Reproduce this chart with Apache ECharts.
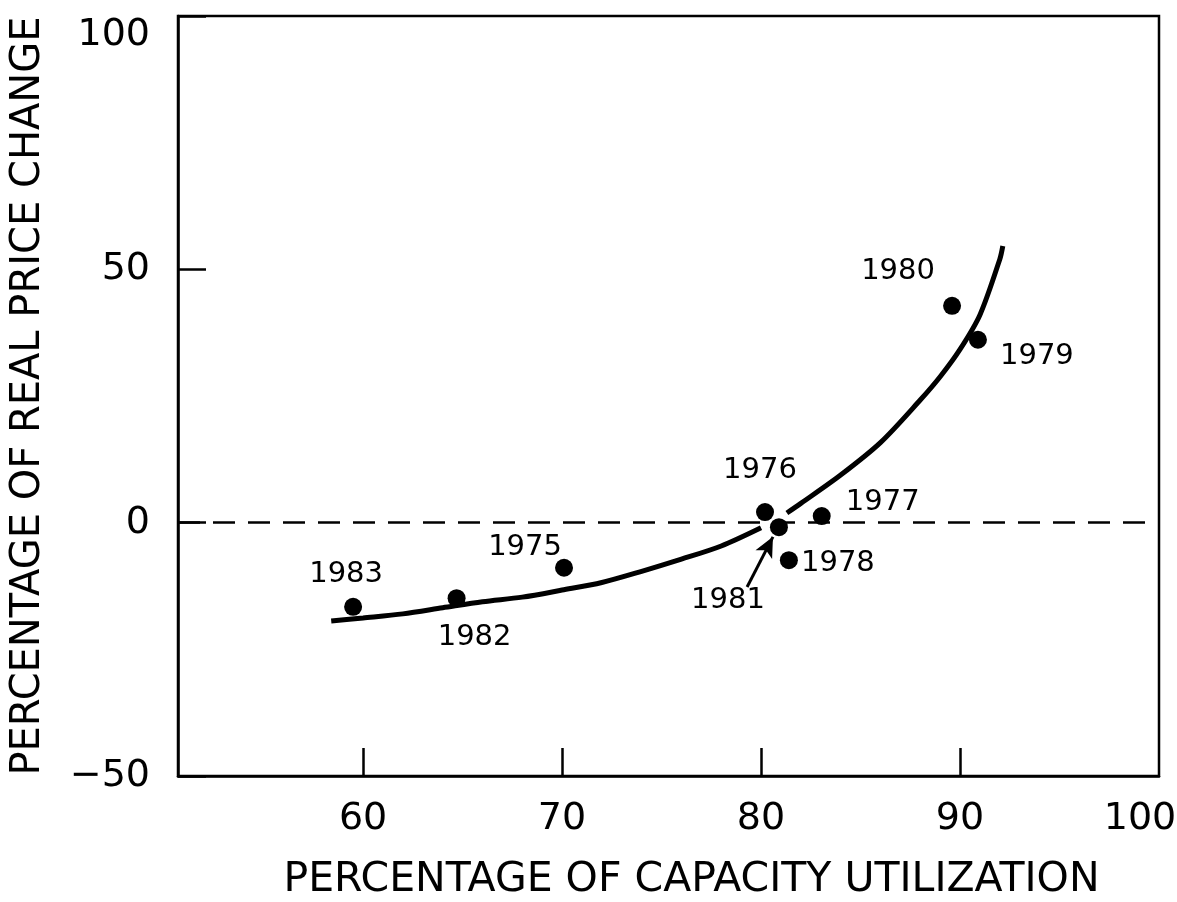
<!DOCTYPE html>
<html>
<head>
<meta charset="utf-8">
<title>Capacity utilization vs real price change</title>
<script src="https://cdn.jsdelivr.net/npm/echarts@6/dist/echarts.min.js"></script>
<style>
  html, body { margin: 0; padding: 0; background: #fff; }
  #chart { width: 1177px; height: 902px; }
</style>
</head>
<body>
<div id="chart"></div>
<script>
// observed years: capacity utilization (%) vs real price change (%)
const years = ['1983', '1982', '1975', '1976', '1981', '1978', '1977', '1980', '1979'];
const capacityUtil = [59.5, 64.7, 70.1, 80.2, 80.9, 81.4, 83.05, 89.6, 90.9];
const priceChange = [-16.6, -14.9, -8.9, 2.1, -0.9, -7.4, 1.3, 42.8, 36.1];

// fitted curve (drawn in two pieces around 1981)
const curveLower = [[58.4, -19.4], [60, -18.8], [62, -18.0], [64, -16.8], [66, -15.6], [68, -14.7],
  [70, -13.3], [72, -11.8], [74, -9.6], [76, -7.2], [78, -4.6], [80, -1.0]];
const curveUpper = [[81.3, 1.9], [82, 3.8], [84, 9.4], [86, 15.8], [88, 24.2], [89, 28.8],
  [90, 34.2], [91, 41.0], [92, 52.0], [92.15, 54.6]];

// pointer from the 1981 label to its dot
const arrow1981 = [[79.3, -12.7], [80.6, -2.8]];

const xTickValues = [60, 70, 80, 90];
const xLabelValues = [60, 70, 80, 90, 100];

// label placement around each dot (px offset from dot centre)
const labelOffset = {
  '1983': [-7, -32], '1982': [18, 39], '1975': [-39, -20], '1976': [-5, -42],
  '1981': [-51, 73], '1978': [49, 3], '1977': [61, -14], '1980': [-54, -34], '1979': [59, 17]
};

const font = 'DejaVu Sans';
const chart = echarts.init(document.getElementById('chart'));

chart.setOption({
  backgroundColor: '#fff',
  animation: false,
  grid: {
    left: 178, right: 18, top: 16, bottom: 126,
    outerBoundsMode: 'none',
    containLabel: false,
    show: true, borderColor: '#000', borderWidth: 2.5
  },
  xAxis: {
    type: 'value',
    min: 50.7,
    max: 100,
    name: 'PERCENTAGE OF CAPACITY UTILIZATION',
    nameLocation: 'middle',
    nameGap: 84,
    nameTextStyle: { color: '#000', fontFamily: font, fontSize: 41, padding: [0, 0, 0, 46] },
    axisLine: { onZero: false, lineStyle: { color: '#000', width: 2.5 } },
    axisTick: { inside: true, length: 28, lineStyle: { color: '#000', width: 2.5 }, customValues: xTickValues },
    axisLabel: {
      color: '#000', fontFamily: font, fontSize: 38, margin: 24, customValues: xLabelValues,
      formatter: function (v) { return v === 100 ? '{last|100}' : String(v) },
      rich: { last: { fontFamily: font, fontSize: 38, color: '#000', padding: [0, 38, 0, 0] } }
    },
    splitLine: { show: false }
  },
  yAxis: {
    type: 'value',
    min: -50,
    max: 100,
    interval: 50,
    name: 'PERCENTAGE OF REAL PRICE CHANGE',
    nameLocation: 'middle',
    nameGap: 129,
    nameTextStyle: { color: '#000', fontFamily: font, fontSize: 40 },
    axisLine: { onZero: false, lineStyle: { color: '#000', width: 2.5 } },
    axisTick: { inside: true, length: 28, lineStyle: { color: '#000', width: 2.5 } },
    axisLabel: {
      color: '#000', fontFamily: font, fontSize: 38, margin: 28,
      verticalAlignMaxLabel: 'top',
      formatter: function (v) { return v < 0 ? '\u2212' + Math.abs(v) : String(v) }
    },
    splitLine: { show: false }
  },
  series: [
    {
      type: 'line',
      data: curveLower,
      smooth: 0.3,
      showSymbol: false,
      lineStyle: { color: '#000', width: 5 },
      z: 3
    },
    {
      type: 'line',
      data: curveUpper,
      smooth: 0.3,
      showSymbol: false,
      lineStyle: { color: '#000', width: 5 },
      z: 3
    },
    {
      type: 'scatter',
      symbolSize: 18,
      itemStyle: { color: '#000', opacity: 1 },
      data: years.map(function (y, i) {
        return {
          name: y,
          value: [capacityUtil[i], priceChange[i]],
          label: { offset: labelOffset[y] }
        }
      }),
      label: {
        show: true,
        position: 'inside',
        formatter: '{b}',
        color: '#000',
        fontFamily: font,
        fontSize: 29
      },
      markLine: {
        silent: true,
        symbol: ['none', 'none'],
        label: { show: false },
        data: [
          { yAxis: 0, lineStyle: { color: '#000', width: 2.5, type: [22, 13] } },
          [
            { coord: arrow1981[0], symbol: 'none' },
            { coord: arrow1981[1], symbol: 'arrow', symbolSize: [14, 20] }
          ]
        ],
        lineStyle: { color: '#000', width: 3, type: 'solid' }
      },
      z: 4
    }
  ]
})
</script>
</body>
</html>
